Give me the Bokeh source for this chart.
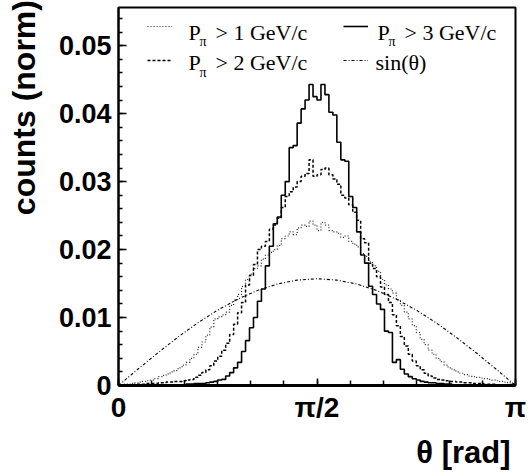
import numpy as np
from bokeh.plotting import figure
from bokeh.models import Range1d, FixedTicker, Label, Legend, LegendItem
from bokeh.embed import file_html
from bokeh.resources import INLINE

# ---------------- data (normalised counts per bin, 100 bins on [0, pi]) ----------------
n_bins = 100
theta_edges = np.linspace(0, np.pi, n_bins + 1)

p_gt1 = [0.0001, 0.0002, 0.0002, 0.0003, 0.0004, 0.0005, 0.0006, 0.0007, 0.0008, 0.0010,
         0.0013, 0.0015, 0.0017, 0.0020, 0.0022, 0.0026, 0.0030, 0.0034, 0.0040, 0.0046,
         0.0056, 0.0064, 0.0074, 0.0086, 0.0098, 0.0101, 0.0104, 0.0108, 0.0118, 0.0126,
         0.0134, 0.0146, 0.0156, 0.0164, 0.0172, 0.0176, 0.0186, 0.0192, 0.0196, 0.0200,
         0.0206, 0.0216, 0.0220, 0.0226, 0.0222, 0.0232, 0.0236, 0.0234, 0.0242, 0.0236,
         0.0228, 0.0240, 0.0236, 0.0228, 0.0226, 0.0224, 0.0218, 0.0220, 0.0212, 0.0208,
         0.0204, 0.0194, 0.0190, 0.0182, 0.0176, 0.0168, 0.0156, 0.0148, 0.0142, 0.0136,
         0.0126, 0.0118, 0.0108, 0.0098, 0.0088, 0.0078, 0.0068, 0.0060, 0.0052, 0.0046,
         0.0040, 0.0035, 0.0030, 0.0026, 0.0023, 0.0020, 0.0018, 0.0016, 0.0014, 0.0013,
         0.0012, 0.0011, 0.0010, 0.0009, 0.0008, 0.0007, 0.0006, 0.0005, 0.0004, 0.0002]

p_gt2 = [0.0000, 0.0001, 0.0001, 0.0001, 0.0002, 0.0002, 0.0002, 0.0003, 0.0003, 0.0003,
         0.0004, 0.0004, 0.0005, 0.0005, 0.0006, 0.0006, 0.0007, 0.0008, 0.0009, 0.0012,
         0.0015, 0.0019, 0.0023, 0.0029, 0.0036, 0.0043, 0.0052, 0.0062, 0.0075, 0.0090,
         0.0107, 0.0122, 0.0148, 0.0162, 0.0178, 0.0200, 0.0205, 0.0212, 0.0230, 0.0236,
         0.0246, 0.0262, 0.0278, 0.0285, 0.0292, 0.0300, 0.0308, 0.0312, 0.0332, 0.0308,
         0.0310, 0.0318, 0.0320, 0.0310, 0.0304, 0.0296, 0.0280, 0.0276, 0.0266, 0.0255,
         0.0243, 0.0216, 0.0210, 0.0180, 0.0172, 0.0160, 0.0145, 0.0134, 0.0122, 0.0104,
         0.0088, 0.0072, 0.0058, 0.0046, 0.0036, 0.0029, 0.0023, 0.0018, 0.0014, 0.0011,
         0.0009, 0.0008, 0.0007, 0.0006, 0.0006, 0.0005, 0.0005, 0.0004, 0.0004, 0.0003,
         0.0003, 0.0003, 0.0002, 0.0002, 0.0002, 0.0001, 0.0001, 0.0001, 0.0001, 0.0000]

p_gt3 = [0.0000, 0.0000, 0.0000, 0.0000, 0.0000, 0.0000, 0.0000, 0.0000, 0.0000, 0.0000,
         0.0001, 0.0001, 0.0001, 0.0001, 0.0001, 0.0001, 0.0001, 0.0002, 0.0002, 0.0003,
         0.0003, 0.0003, 0.0004, 0.0005, 0.0006, 0.0008, 0.0009, 0.0014, 0.0019, 0.0026,
         0.0034, 0.0050, 0.0066, 0.0085, 0.0100, 0.0124, 0.0142, 0.0176, 0.0205, 0.0238,
         0.0248, 0.0280, 0.0300, 0.0350, 0.0353, 0.0386, 0.0407, 0.0420, 0.0443, 0.0425,
         0.0420, 0.0443, 0.0428, 0.0402, 0.0398, 0.0358, 0.0332, 0.0330, 0.0278, 0.0262,
         0.0226, 0.0192, 0.0180, 0.0146, 0.0134, 0.0120, 0.0112, 0.0080, 0.0078, 0.0034,
         0.0038, 0.0024, 0.0017, 0.0013, 0.0010, 0.0008, 0.0006, 0.0005, 0.0004, 0.0004,
         0.0003, 0.0003, 0.0002, 0.0002, 0.0001, 0.0001, 0.0001, 0.0001, 0.0001, 0.0001,
         0.0000, 0.0000, 0.0000, 0.0000, 0.0000, 0.0000, 0.0000, 0.0000, 0.0000, 0.0000]

# sin(theta) reference curve, normalised the same way (sampled at 21 points)
sin_theta = [0.0, 0.00246, 0.00485, 0.00713, 0.00923, 0.01110, 0.01270, 0.01399, 0.01493, 0.01551,
             0.01571, 0.01551, 0.01493, 0.01399, 0.01270, 0.01110, 0.00923, 0.00713, 0.00485, 0.00246, 0.0]
sin_x = np.linspace(0, np.pi, len(sin_theta))

y_ticks = [0, 0.01, 0.02, 0.03, 0.04, 0.05]
y_tick_labels = ["0", "0.01", "0.02", "0.03", "0.04", "0.05"]
y_minor = [i * 0.002 for i in range(28)]
x_ticks = [0, np.pi / 2, np.pi]
x_tick_labels = ["0", "π/2", "π"]
x_minor = [k * np.pi / 12 for k in range(13)]

legend_labels = ["P", "π", "> 1 GeV/c", "> 2 GeV/c", "> 3 GeV/c", "sin(θ)"]
x_title = "θ [rad]"
y_title = "counts (norm)"

# ---------------- figure ----------------
p = figure(width=529, height=472, title=None,
           x_range=Range1d(0, np.pi), y_range=Range1d(0, 0.05562),
           output_backend="svg", toolbar_location=None,
           min_border_left=118, min_border_right=14, min_border_top=7, min_border_bottom=69)
p.grid.visible = False
p.outline_line_color = "black"
p.outline_line_width = 2
p.background_fill_color = "white"

def step_vals(v):
    return list(v) + [v[-1]]

r1 = p.step(theta_edges, step_vals(p_gt1), mode="after", line_color="#222222",
            line_width=1.2, line_dash="1 2")
r2 = p.step(theta_edges, step_vals(p_gt2), mode="after", line_color="black",
            line_width=1.5, line_dash="3 2")
r3 = p.step(theta_edges, step_vals(p_gt3), mode="after", line_color="black",
            line_width=1.6)
r4 = p.line(sin_x, sin_theta, line_color="black", line_width=1.1, line_dash="3 2 1 2")

# axes
p.xaxis.ticker = FixedTicker(ticks=x_ticks, minor_ticks=x_minor)
p.xaxis.major_label_overrides = {t: l for t, l in zip(x_ticks, x_tick_labels)}
p.yaxis.ticker = FixedTicker(ticks=y_ticks, minor_ticks=y_minor)
p.yaxis.major_label_overrides = {t: l for t, l in zip(y_ticks, y_tick_labels)}

for ax in (p.xaxis, p.yaxis):
    ax.major_tick_out = 0
    ax.minor_tick_out = 0
    ax.major_tick_line_color = "black"
    ax.minor_tick_line_color = "black"
    ax.major_tick_line_width = 1.5
    ax.minor_tick_line_width = 1.5
    ax.axis_line_color = "black"
    ax.major_label_text_font = "Liberation Sans"
    ax.major_label_text_font_style = "bold"
    ax.major_label_text_color = "black"
    ax.axis_label_text_font = "Liberation Sans"
    ax.axis_label_text_font_style = "bold"
    ax.axis_label_text_color = "black"

p.xaxis.major_tick_in = 7
p.xaxis.minor_tick_in = 5
p.xaxis.axis_line_width = 3
p.xaxis.major_label_text_font_size = "28px"
p.xaxis.major_label_standoff = 6
p.xaxis.axis_label_standoff = 9
p.xaxis.axis_label_text_font_size = "31px"

p.yaxis.major_tick_in = 8
p.yaxis.minor_tick_in = 4
p.yaxis.axis_line_width = 2
p.yaxis.major_label_text_font_size = "27px"
p.yaxis.major_label_standoff = 7
p.yaxis.axis_label_standoff = 14
p.yaxis.axis_label_text_font_size = "32px"

# titles pushed toward the axis ends (ROOT style) with non-breaking padding
p.xaxis.axis_label = "\u00a0" * 34 + x_title
p.yaxis.axis_label = "\u00a0" * 20 + y_title

# ---------------- legend (glyph samples, one legend per entry) ----------------
common = dict(orientation="vertical", glyph_width=25, glyph_height=26, label_height=26,
              label_width=10, spacing=0, padding=0, margin=0, border_line_alpha=0,
              background_fill_alpha=0, label_text_font_size="10px", label_standoff=0)
sample_pos = [(29, 346), (29, 312), (225, 346), (225, 312)]
for i, (r, loc) in enumerate(zip([r1, r2, r3, r4], sample_pos)):
    p.add_layout(Legend(items=[LegendItem(label="\u00a0" * (i + 1), renderers=[r])],
                        location=loc, **common))

# legend texts (Times-like serif with subscript pi)
def serif(x, y, text, size):
    p.add_layout(Label(x=x, y=y, text=text, text_font="Liberation Serif",
                       text_font_size=size, text_color="black",
                       text_baseline="alphabetic", text_align="left"))

row_y = [0.05197, 0.04747]
sub_y = [0.05056, 0.04607]
col_x = [0.5539, 2.0496]
pi_dx = 0.0871
gt_dx = 0.2136
serif(col_x[0], row_y[0], legend_labels[0], "22px")
serif(col_x[0] + pi_dx, sub_y[0], legend_labels[1], "14px")
serif(col_x[0] + gt_dx, row_y[0], legend_labels[2], "22px")
serif(col_x[0], row_y[1], legend_labels[0], "22px")
serif(col_x[0] + pi_dx, sub_y[1], legend_labels[1], "14px")
serif(col_x[0] + gt_dx, row_y[1], legend_labels[3], "22px")
serif(col_x[1], row_y[0], legend_labels[0], "22px")
serif(col_x[1] + pi_dx, sub_y[0], legend_labels[1], "14px")
serif(col_x[1] + gt_dx, row_y[0], legend_labels[4], "22px")
serif(col_x[1] - 0.016, row_y[1], legend_labels[5], "22px")

open("out.html", "w").write(file_html(p, INLINE))
